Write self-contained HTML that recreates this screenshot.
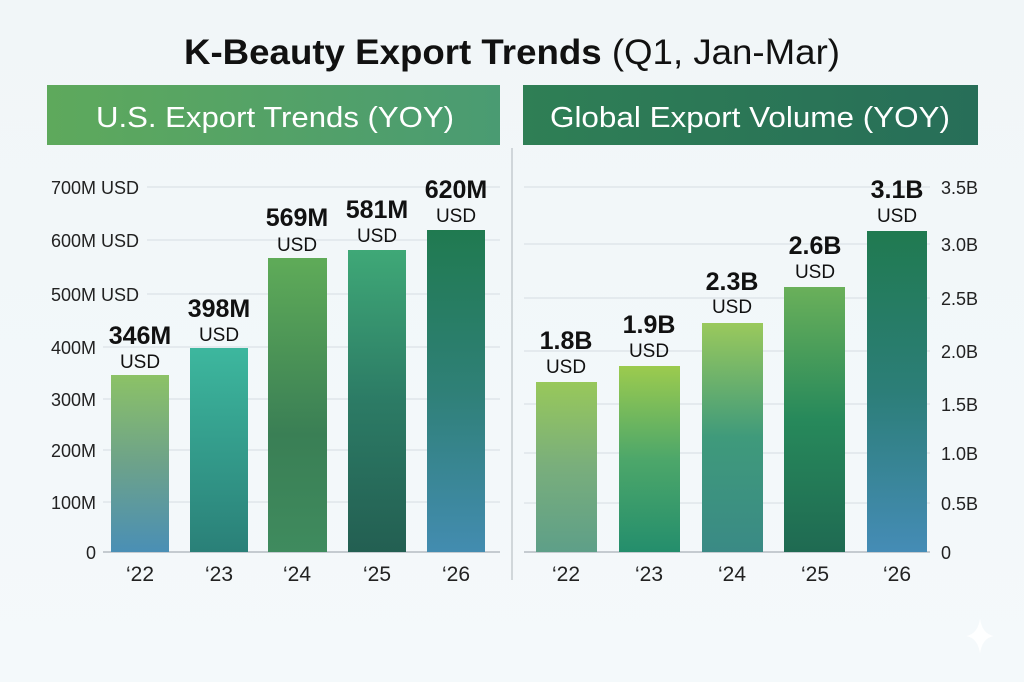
<!DOCTYPE html>
<html><head><meta charset="utf-8"><style>
html,body{margin:0;padding:0;}
body{width:1024px;height:682px;background:linear-gradient(#f1f6f8,#f4f9fb);font-family:"Liberation Sans",sans-serif;position:relative;overflow:hidden;}
</style></head><body>
<svg width="1024" height="682" xmlns="http://www.w3.org/2000/svg" style="position:absolute;left:0;top:0">
<defs>
<linearGradient id="hl" x1="0" x2="1"><stop offset="0" stop-color="#5ea95c"/><stop offset="1" stop-color="#4a9b72"/></linearGradient>
<linearGradient id="hr" x1="0" x2="1"><stop offset="0" stop-color="#2f7f55"/><stop offset="1" stop-color="#276e58"/></linearGradient>
<linearGradient id="a1" x1="0" y1="0" x2="0" y2="1"><stop offset="0" stop-color="#8cc266"/><stop offset="0.5" stop-color="#6da28a"/><stop offset="1" stop-color="#4a8fb5"/></linearGradient>
<linearGradient id="a2" x1="0" y1="0" x2="0" y2="1"><stop offset="0" stop-color="#3db79e"/><stop offset="1" stop-color="#2a8078"/></linearGradient>
<linearGradient id="a3" x1="0" y1="0" x2="0" y2="1"><stop offset="0" stop-color="#5fab58"/><stop offset="0.6" stop-color="#3a7f55"/><stop offset="1" stop-color="#3f8b5e"/></linearGradient>
<linearGradient id="a4" x1="0" y1="0" x2="0" y2="1"><stop offset="0" stop-color="#3fa877"/><stop offset="0.5" stop-color="#2c7b65"/><stop offset="1" stop-color="#235f52"/></linearGradient>
<linearGradient id="a5" x1="0" y1="0" x2="0" y2="1"><stop offset="0" stop-color="#207a50"/><stop offset="0.5" stop-color="#2f8077"/><stop offset="1" stop-color="#438cb0"/></linearGradient>
<linearGradient id="b1" x1="0" y1="0" x2="0" y2="1"><stop offset="0" stop-color="#98c85a"/><stop offset="0.5" stop-color="#79ae7c"/><stop offset="1" stop-color="#5e9f88"/></linearGradient>
<linearGradient id="b2" x1="0" y1="0" x2="0" y2="1"><stop offset="0" stop-color="#9ccb4e"/><stop offset="0.5" stop-color="#4da76a"/><stop offset="1" stop-color="#248e6c"/></linearGradient>
<linearGradient id="b3" x1="0" y1="0" x2="0" y2="1"><stop offset="0" stop-color="#9ac95c"/><stop offset="0.5" stop-color="#3f9a7b"/><stop offset="1" stop-color="#3a8a85"/></linearGradient>
<linearGradient id="b4" x1="0" y1="0" x2="0" y2="1"><stop offset="0" stop-color="#6ab05a"/><stop offset="0.5" stop-color="#27895b"/><stop offset="1" stop-color="#1f6a52"/></linearGradient>
<linearGradient id="b5" x1="0" y1="0" x2="0" y2="1"><stop offset="0" stop-color="#207a50"/><stop offset="0.5" stop-color="#2c7e78"/><stop offset="1" stop-color="#458cb6"/></linearGradient>
</defs>
<text x="512" y="64" text-anchor="middle" font-size="35" fill="#111" textLength="656" lengthAdjust="spacingAndGlyphs"><tspan font-weight="bold">K-Beauty Export Trends </tspan><tspan>(Q1, Jan-Mar)</tspan></text>
<rect x="47" y="85" width="453" height="60" fill="url(#hl)"/>
<rect x="523" y="85" width="455" height="60" fill="url(#hr)"/>
<text x="275" y="127" text-anchor="middle" font-size="29" fill="#fff" textLength="358" lengthAdjust="spacingAndGlyphs">U.S. Export Trends (YOY)</text>
<text x="750" y="127" text-anchor="middle" font-size="29" fill="#fff" textLength="400" lengthAdjust="spacingAndGlyphs">Global Export Volume (YOY)</text>
<line x1="512" y1="148" x2="512" y2="580" stroke="#c5ccd0" stroke-width="1.5"/>
<g stroke="#d6dde2" stroke-width="1">
<line x1="147" y1="187" x2="500" y2="187"/><line x1="147" y1="240" x2="500" y2="240"/><line x1="147" y1="294" x2="500" y2="294"/>
<line x1="103" y1="347" x2="500" y2="347"/><line x1="103" y1="399" x2="500" y2="399"/><line x1="103" y1="450" x2="500" y2="450"/><line x1="103" y1="502" x2="500" y2="502"/>
<line x1="524" y1="187" x2="930" y2="187"/><line x1="524" y1="244" x2="930" y2="244"/><line x1="524" y1="298" x2="930" y2="298"/><line x1="524" y1="351" x2="930" y2="351"/><line x1="524" y1="404" x2="930" y2="404"/><line x1="524" y1="453" x2="930" y2="453"/><line x1="524" y1="503" x2="930" y2="503"/>
</g>
<line x1="103" y1="552" x2="500" y2="552" stroke="#b5bcc2" stroke-width="1.5"/>
<line x1="524" y1="552" x2="930" y2="552" stroke="#b5bcc2" stroke-width="1.5"/>
<g font-size="18" fill="#222" text-anchor="end">
<text x="139" y="194">700M USD</text><text x="139" y="247">600M USD</text><text x="139" y="301">500M USD</text>
<text x="96" y="354">400M</text><text x="96" y="406">300M</text><text x="96" y="457">200M</text><text x="96" y="509">100M</text><text x="96" y="559">0</text>
</g>
<g font-size="18" fill="#222">
<text x="941" y="194">3.5B</text><text x="941" y="251">3.0B</text><text x="941" y="305">2.5B</text><text x="941" y="358">2.0B</text><text x="941" y="411">1.5B</text><text x="941" y="460">1.0B</text><text x="941" y="510">0.5B</text><text x="941" y="559">0</text>
</g>
<rect x="111" y="375" width="58" height="177" fill="url(#a1)"/>
<rect x="190" y="348" width="58" height="204" fill="url(#a2)"/>
<rect x="268" y="258" width="59" height="294" fill="url(#a3)"/>
<rect x="348" y="250" width="58" height="302" fill="url(#a4)"/>
<rect x="427" y="230" width="58" height="322" fill="url(#a5)"/>
<rect x="536" y="382" width="61" height="170" fill="url(#b1)"/>
<rect x="619" y="366" width="61" height="186" fill="url(#b2)"/>
<rect x="702" y="323" width="61" height="229" fill="url(#b3)"/>
<rect x="784" y="287" width="61" height="265" fill="url(#b4)"/>
<rect x="867" y="231" width="60" height="321" fill="url(#b5)"/>
<g text-anchor="middle" fill="#111">
<g font-size="25" font-weight="bold">
<text x="140" y="344">346M</text><text x="219" y="317">398M</text><text x="297" y="226">569M</text><text x="377" y="218">581M</text><text x="456" y="198">620M</text>
<text x="566" y="349">1.8B</text><text x="649" y="333">1.9B</text><text x="732" y="290">2.3B</text><text x="815" y="254">2.6B</text><text x="897" y="198">3.1B</text>
</g>
<g font-size="19">
<text x="140" y="368">USD</text><text x="219" y="341">USD</text><text x="297" y="251">USD</text><text x="377" y="242">USD</text><text x="456" y="222">USD</text>
<text x="566" y="373">USD</text><text x="649" y="357">USD</text><text x="732" y="313">USD</text><text x="815" y="278">USD</text><text x="897" y="222">USD</text>
</g>
<g font-size="21" fill="#222">
<text x="140" y="581">‘22</text><text x="219" y="581">‘23</text><text x="297" y="581">‘24</text><text x="377" y="581">‘25</text><text x="456" y="581">‘26</text>
<text x="566" y="581">‘22</text><text x="649" y="581">‘23</text><text x="732" y="581">‘24</text><text x="815" y="581">‘25</text><text x="897" y="581">‘26</text>
</g>
</g>
<path d="M980 618 Q982 634 994 636 Q982 638 980 654 Q978 638 966 636 Q978 634 980 618Z" fill="#ffffff" opacity="0.9"/>
</svg>
</body></html>
